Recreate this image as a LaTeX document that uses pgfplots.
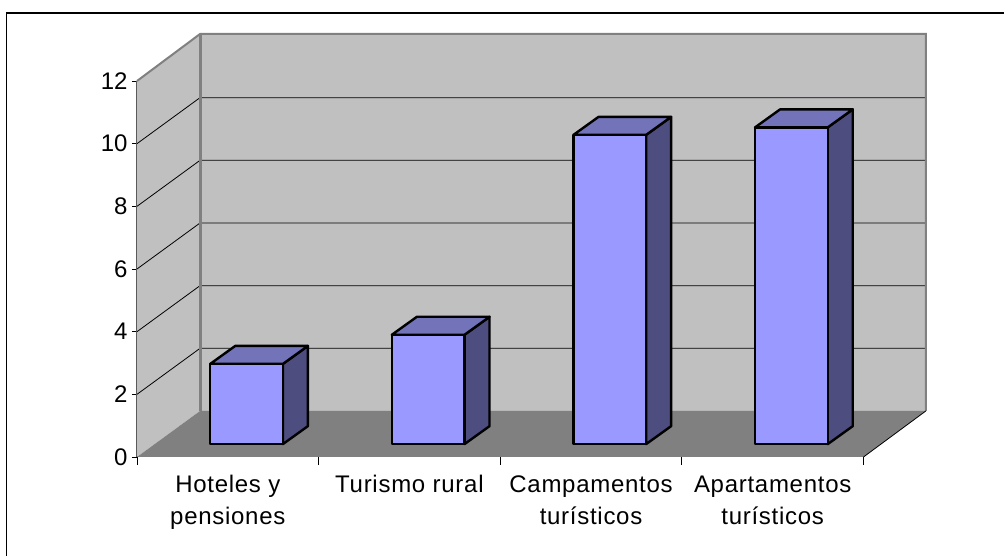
\documentclass[border=0pt]{standalone}
\usepackage{fontspec}
\setmainfont{Liberation Sans}
\newfontfamily\catfont[LetterSpace=3]{Liberation Sans}
\usepackage{pgfplots}
\pgfplotsset{compat=1.18}

\definecolor{wallc}{HTML}{C0C0C0}
\definecolor{floorc}{HTML}{808080}
\definecolor{frontc}{HTML}{9999FF}
\definecolor{topc}{HTML}{7373BA}
\definecolor{sidec}{HTML}{4D4D80}

% depth of the box (wall) and of the bars, in data units
\newcommand{\wallgrid}[1]{%
  \pgfmathsetmacro\ya{#1}\pgfmathsetmacro\yb{#1+1.468}%
  \addplot[black,line width=0.8pt] coordinates {(0.5,\ya)(0.847,\yb)(4.843,\yb)};
}
\newcommand{\threedbar}[2]{%
  \pgfmathsetmacro\xa{#1+0.103-0.2}\pgfmathsetmacro\xb{#1+0.103+0.2}%
  \pgfmathsetmacro\xc{\xa+0.138}\pgfmathsetmacro\xd{\xb+0.138}%
  \pgfmathsetmacro\ya{0.41}\pgfmathsetmacro\yb{0.41+#2}%
  \pgfmathsetmacro\yc{\ya+0.575}\pgfmathsetmacro\yd{\yb+0.575}%
  \addplot[draw=black,line width=2.4pt,line join=round,fill=sidec] coordinates {(\xb,\ya)(\xd,\yc)(\xd,\yd)(\xb,\yb)} -- cycle;
  \addplot[draw=black,line width=2.4pt,line join=round,fill=topc] coordinates {(\xa,\yb)(\xb,\yb)(\xd,\yd)(\xc,\yd)} -- cycle;
  \addplot[draw=black,line width=2.4pt,line join=round,fill=frontc] coordinates {(\xa,\ya)(\xb,\ya)(\xb,\yb)(\xa,\yb)} -- cycle;
}

\begin{document}
\begin{tikzpicture}
\useasboundingbox (-137pt,-99pt) rectangle (867pt,457pt);
\draw[black,line width=1.3pt] (-130.5pt,-99pt) -- (-130.5pt,444pt) -- (867pt,444pt);
\begin{axis}[
    anchor=origin,
    at={(0pt,0pt)},
    scale only axis,
    width=726.5pt, height=376pt,
    xmin=0.5, xmax=4.5,
    ymin=0, ymax=12,
    clip=false,
    axis x line*=bottom,
    axis y line*=left,
    axis line style={-,line width=1pt},
    separate axis lines,
    x axis line style={black},
    y axis line style={black!70},
    ytick={0,2,4,6,8,10,12},
    xtick={1,2,3,4},
    xticklabels={Hoteles y\\pensiones,Turismo rural,Campamentos\\turísticos,Apartamentos\\turísticos},
    minor xtick={0.5,1.5,2.5,3.5,4.5},
    major x tick style={draw=none},
    minor x tick style={black,line width=0.8pt},
    minor tick length=8pt,
    major tick length=5pt,
    tick align=outside,
    ytick style={black,line width=0.8pt},
    xticklabel style={font=\catfont\fontsize{24}{32}\selectfont,align=center,yshift=-10pt},
    yticklabel style={font=\fontsize{24}{28}\selectfont,xshift=-1pt},
    /pgf/number format/assume math mode=true,
    axis on top=false,
]
% walls and floor
\addplot[fill=wallc,draw=none] coordinates {(0.5,0)(0.847,1.468)(0.847,13.5)(0.5,12)} -- cycle;
\addplot[fill=wallc,draw=none] coordinates {(0.847,1.468)(4.843,1.468)(4.843,13.5)(0.847,13.5)} -- cycle;
\addplot[fill=floorc,draw=none] coordinates {(0.5,0)(4.5,0)(4.843,1.468)(0.847,1.468)} -- cycle;
% gridlines
\wallgrid{2}
\wallgrid{4}
\wallgrid{6}
\wallgrid{8}
\wallgrid{10}
% wall edges
\addplot[floorc,line width=2pt] coordinates {(0.5,12)(0.847,13.5)(4.843,13.5)(4.843,1.468)};
\addplot[floorc,line width=3pt] coordinates {(0.847,1.468)(0.847,13.5)};
\addplot[black,line width=0.8pt] coordinates {(4.5,0)(4.843,1.468)};
% bars
\threedbar{1}{2.56}
\threedbar{2}{3.49}
\threedbar{3}{9.87}
\threedbar{4}{10.11}
\end{axis}
\end{tikzpicture}
\end{document}
